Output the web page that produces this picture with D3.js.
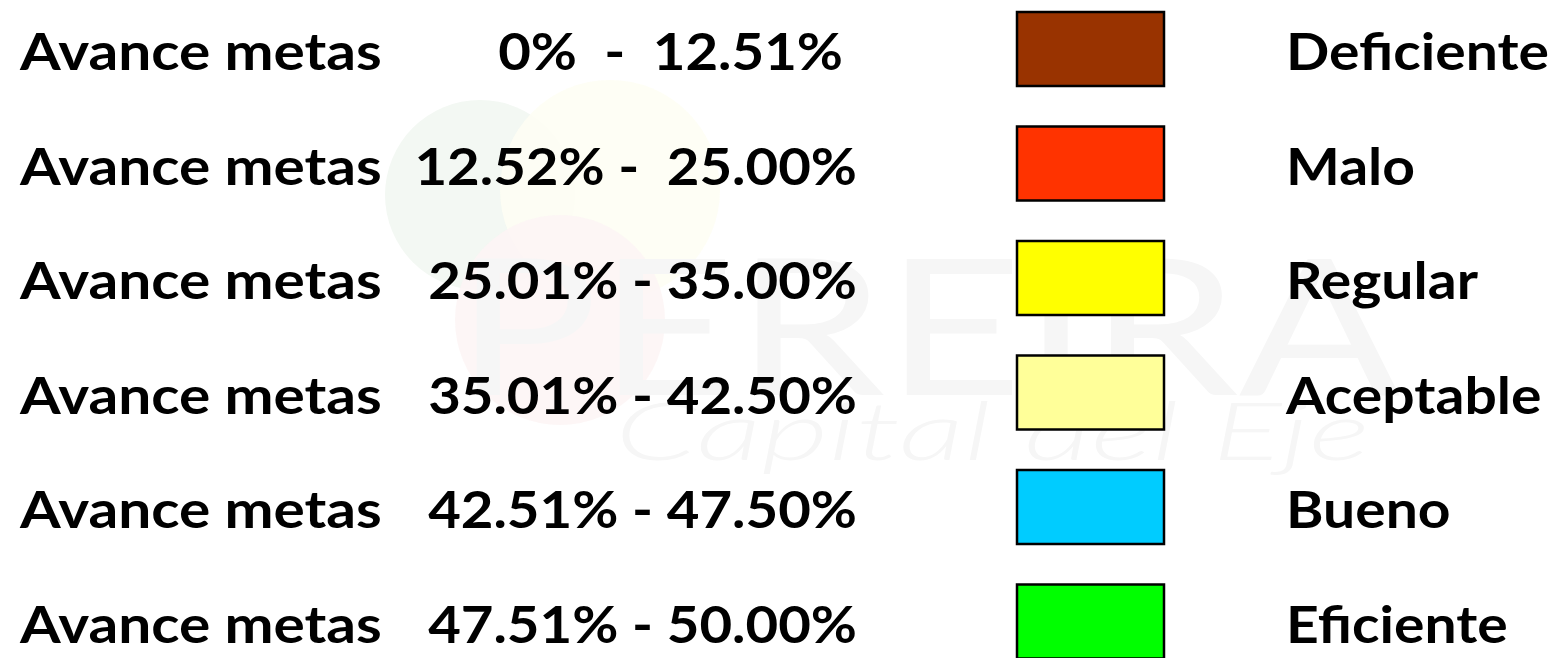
<!DOCTYPE html>
<html>
<head>
<meta charset="utf-8">
<script src="https://cdn.jsdelivr.net/npm/d3@7"></script>
<style>
  html, body { margin: 0; padding: 0; background: #ffffff; overflow: hidden; }
  svg { display: block; }
</style>
</head>
<body>
<svg id="chart" width="1561" height="658"></svg>
<script>
// ---- data ----
const categories = ["Deficiente", "Malo", "Regular", "Aceptable", "Bueno", "Eficiente"];
const rangeLabels = ["0%  -  12.51%", "12.52% -  25.00%", "25.01% - 35.00%", "35.01% - 42.50%", "42.51% - 47.50%", "47.51% - 50.00%"];
const colors = ["#993300", "#FF3300", "#FFFF00", "#FFFF99", "#00CCFF", "#00FF00"];
const prefix = "Avance metas";

// ---- layout ----
const svg = d3.select("#chart");
const FONT = "Lato, 'Open Sans', sans-serif";
const FS = 52;

const y = d3.scaleBand().domain(categories).range([-8.25, 678.75]).paddingInner(0);
const color = d3.scaleOrdinal().domain(categories).range(colors);
const rangeOf = d3.scaleOrdinal().domain(categories).range(rangeLabels);

// very faint watermark (logo in the background of the reference)
const wm = svg.append("g").attr("class", "watermark").attr("pointer-events", "none");
wm.append("circle").attr("cx", 480).attr("cy", 195).attr("r", 95).attr("fill", "#f3f8f3");
wm.append("circle").attr("cx", 610).attr("cy", 190).attr("r", 110).attr("fill", "#fefef3").attr("opacity", 0.85);
wm.append("circle").attr("cx", 560).attr("cy", 320).attr("r", 105).attr("fill", "#fdf5f5").attr("opacity", 0.85);
wm.append("text").text("PEREIRA")
  .attr("x", 455).attr("y", 395)
  .attr("font-family", FONT).attr("font-weight", 400).attr("font-size", 190)
  .attr("fill", "#f6f6f6")
  .attr("textLength", 945).attr("lengthAdjust", "spacingAndGlyphs");
wm.append("text").text("Capital del Eje")
  .attr("x", 615).attr("y", 460)
  .attr("font-family", FONT).attr("font-style", "italic").attr("font-weight", 300).attr("font-size", 80)
  .attr("fill", "#f6f6f6")
  .attr("textLength", 755).attr("lengthAdjust", "spacingAndGlyphs");

// measure natural widths to get horizontal compression factors
function measure(s) {
  const p = svg.append("text").text(s)
    .attr("font-family", FONT).attr("font-weight", 700).attr("font-size", FS)
    .attr("xml:space", "preserve").style("white-space", "pre");
  const w = p.node().getComputedTextLength();
  p.remove();
  return w;
}
const sxPrefix = 362 / measure(prefix);
const sxRange = 429 / measure(rangeLabels[2]);
const sxLabel = 263 / measure(categories[0]);

const rows = svg.append("g").selectAll("g.row").data(categories).join("g")
  .attr("class", "row");

const cy = d => y(d) + y.bandwidth() / 2;
const base = d => cy(d) + 21;

function txt(sel, x, anchor, sx, fn) {
  sel.append("text")
    .attr("transform", d => `translate(${typeof x === "function" ? x(d) : x},${base(d)}) scale(${sx},1)`)
    .attr("text-anchor", anchor)
    .attr("font-family", FONT).attr("font-weight", 700).attr("font-size", FS)
    .attr("fill", "#000")
    .attr("xml:space", "preserve")
    .style("white-space", "pre")
    .text(fn);
}

txt(rows, 20, "start", sxPrefix, () => prefix);
txt(rows, d => d === categories[0] ? 843 : 857, "end", sxRange, d => rangeOf(d));
txt(rows, 1286, "start", sxLabel, d => d);

rows.append("rect")
  .attr("x", 1017)
  .attr("y", d => cy(d) - 37)
  .attr("width", 147)
  .attr("height", 74)
  .attr("fill", d => color(d))
  .attr("stroke", "#000")
  .attr("stroke-width", 2.5);
</script>
</body>
</html>
